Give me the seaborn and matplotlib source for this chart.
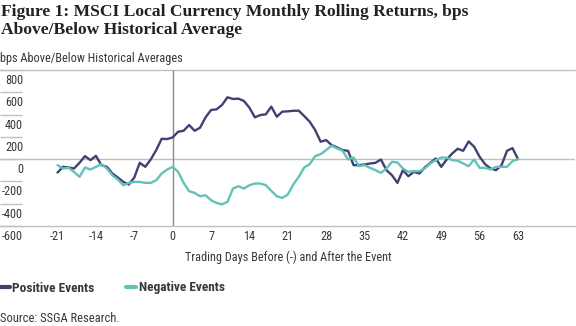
import matplotlib
matplotlib.use("Agg")
import matplotlib.pyplot as plt
import matplotlib.font_manager as fm
import matplotlib.transforms as mtransforms
from matplotlib.lines import Line2D
import pandas as pd
import seaborn as sns

# ---------------- data ----------------
days = list(range(-21, 64))
positive = [-120, -69, -75, -84, -33, 27, -9, 30, -54, -69, -129, -165, -204, -228, -165, -33, -69, -3, 81, 183, 180,
            195, 246, 255, 306, 255, 282, 375, 441, 447, 486, 555, 540, 543, 522, 462, 375, 396, 402, 471, 381, 426, 429, 434,
            435, 387, 336, 261, 156, 171, 126, 105, 81, 75, -54, -54, -48, -39, -33, -3, -99, -144, -213, -99, -153, -114,
            -129, -75, -33, 6, -69, -3, 51, 93, 75, 159, 111, 21, -45, -84, -99, -54, 75, 99, 0]
negative = [-54, -84, -78, -114, -159, -75, -93, -69, -45, -84, -144, -183, -234, -213, -204, -204, -213, -213, -189, -129, -93,
            -69, -114, -213, -288, -303, -333, -324, -369, -393, -405, -384, -264, -243, -264, -234, -219, -219, -234, -285, -333, -348, -318, -228,
            -159, -75, -45, 27, 45, 81, 120, 96, 75, -3, 15, -63, -54, -78, -99, -123, -84, -24, -30, -84, -114, -108,
            -108, -84, -39, -9, 15, 12, -9, -15, -39, -63, -3, -78, -78, -93, -69, -69, -69, -18, 0]
series_names = ["Positive Events", "Negative Events"]
x_ticks = list(range(-21, 64, 7))
y_ticks = list(range(-600, 801, 200))

title_1 = "Figure 1: MSCI Local Currency Monthly Rolling Returns, bps"
title_2 = "Above/Below Historical Average"
subtitle = "bps Above/Below Historical Averages"
x_label = "Trading Days Before (-) and After the Event"
source = "Source: SSGA Research."

NAVY = "#3f4172"
TEAL = "#62c2b8"
GRID = "#c0c0c0"
TXT = "#383838"

# ---------------- fonts ----------------
sns.set_theme(style="white")
names = {f.name for f in fm.fontManager.ttflist}
cond = None
for c in ["Liberation Sans Narrow", "Roboto Condensed", "Open Sans Condensed"]:
    if c in names:
        cond = c
        break
if cond:
    SANS = [cond, "DejaVu Sans"]
    k = 1.0
else:
    SANS = ["Liberation Sans", "DejaVu Sans"]
    k = 0.82
plt.rcParams["font.family"] = SANS
FS = 8.8 * k

W, H = 576, 326
fig = plt.figure(figsize=(W / 100, H / 100), dpi=100)
ax = fig.add_axes([0, (H - 226) / H, 575 / W, 156 / H])

df = pd.DataFrame({
    "day": days * 2,
    "value": positive + negative,
    "series": [series_names[0]] * len(days) + [series_names[1]] * len(days),
})
sns.lineplot(data=df, x="day", y="value", hue="series",
             palette={series_names[0]: NAVY, series_names[1]: TEAL},
             linewidth=1.7, ax=ax, legend=False)

ax.set_xlim(-31.5, 73.4)
ax.set_ylim(-600, 800)
for s in ["top", "left", "right"]:
    ax.spines[s].set_visible(False)
ax.spines["bottom"].set_color(GRID)
ax.spines["bottom"].set_linewidth(1)
ax.axhline(800, color=GRID, lw=1, clip_on=False, zorder=0)
ax.axhline(0, color=GRID, lw=1, zorder=0)
ax.axvline(0, color="#8a8a8a", lw=1, zorder=1)

ax.set_yticks(y_ticks)
ax.set_yticklabels([str(v) for v in y_ticks])
ax.tick_params(axis="y", direction="in", length=15.8, width=1, color=GRID,
               pad=-16.6, labelsize=FS, labelcolor=TXT, left=True)
ax.set_xticks(x_ticks)
ax.set_xticklabels([str(v) for v in x_ticks])
ax.tick_params(axis="x", length=0, pad=3, labelsize=FS, labelcolor=TXT)
ax.set_xlabel("")
ax.set_ylabel("")
off = mtransforms.ScaledTranslation(0, -9 / 100, fig.dpi_scale_trans)
for lbl in ax.get_yticklabels():
    lbl.set_transform(lbl.get_transform() + off)

# ---------------- texts ----------------
def fy(px):
    return 1 - px / H

TITLE_FONT = ["Liberation Serif", "DejaVu Serif"]
fig.text(1 / W, fy(16), title_1, family=TITLE_FONT, weight="bold", size=12.6,
         color="#222222", va="baseline", ha="left")
fig.text(1 / W, fy(34), title_2, family=TITLE_FONT, weight="bold", size=12.6,
         color="#222222", va="baseline", ha="left")
fig.text(0, fy(62), subtitle, size=FS, color=TXT, va="baseline", ha="left")
fig.text(288 / W, fy(261), x_label, size=FS, color=TXT, va="baseline", ha="center")
fig.text(0, fy(321.5), source, size=FS * 1.02, color=TXT, va="baseline", ha="left")

handles = [Line2D([], [], color=NAVY, lw=3), Line2D([], [], color=TEAL, lw=3)]
LFS = 9.6 * k
fig.legend(handles, series_names, loc="center left", bbox_to_anchor=(0, fy(288)),
           ncol=2, frameon=False, handlelength=10 * 0.72 / LFS, handletextpad=2.2 * 0.72 / LFS,
           columnspacing=23.0 / LFS, borderpad=0, borderaxespad=0,
           prop={"weight": "bold", "size": LFS}, labelcolor=TXT)

fig.savefig("out.png", dpi=100)
